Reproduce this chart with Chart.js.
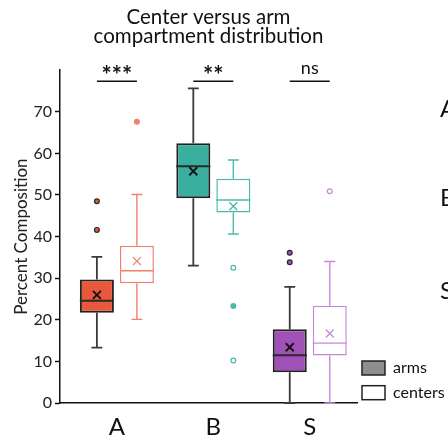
<!DOCTYPE html>
<html lang="en">
<head>
<meta charset="UTF-8">
<title>Center versus arm compartment distribution</title>
<script src="https://cdn.jsdelivr.net/npm/chart.js@4.4.1/dist/chart.umd.min.js"></script>
<style>
    html, body { margin: 0; padding: 0; background: #fff; }
    .grafico { width: 448px; height: 439px; }
</style>
</head>
<body>
<div class="grafico"><canvas id="chartCompartment"></canvas></div>

<script>
    // groups along the x axis
    var groups = ['A', 'B', 'S'];
    var groupPos = [1, 2, 3];
    var yTicks = [0, 10, 20, 30, 40, 50, 60, 70];

    // arms: box plot summaries per group
    var armsLow = [13.3, 33.0, 0];
    var armsQ1 = [21.7, 49.2, 7.4];
    var armsMedian = [24.6, 56.9, 11.5];
    var armsQ3 = [29.7, 62.4, 17.7];
    var armsHigh = [35.1, 75.6, 27.9];
    var armsMean = [26.0, 55.7, 13.4];
    var armsOutliers = [[48.5, 41.6], [], [36.1, 33.8]];

    // centers: box plot summaries per group
    var centersLow = [20.1, 40.6, 0];
    var centersQ1 = [28.8, 45.8, 11.4];
    var centersMedian = [31.8, 48.8, 14.4];
    var centersQ3 = [37.8, 53.9, 23.4];
    var centersHigh = [50.1, 58.4, 34.0];
    var centersMean = [34.1, 47.3, 16.7];
    var centersOutliers = [[67.6], [32.5, 23.3, 10.2], [50.9]];

    // arms vs centers test result per group
    var significance = ['***', '**', 'ns'];

    var armColors = ['#e8583c', '#3aae9f', '#a150b7'];
    var centerColors = ['#f2806d', '#4bb8aa', '#c58ad7'];
    var legendFill = ['#8e8e8e', '#ffffff'];
    var fonte = 'Lato, "Open Sans", sans-serif';

    var series = [
        { low: armsLow, q1: armsQ1, med: armsMedian, q3: armsQ3, high: armsHigh, mean: armsMean, out: armsOutliers },
        { low: centersLow, q1: centersQ1, med: centersMedian, q3: centersQ3, high: centersHigh, mean: centersMean, out: centersOutliers }
    ];

    // outliers of the centers that are drawn solid (group -> index)
    var solidCenterOutliers = { 0: [0], 1: [1] };

    // whiskers, medians, means, outliers, significance bars and legend
    var boxExtras = {
        id: 'boxExtras',
        beforeDatasetsDraw: function (chart) {
            var ctx = chart.ctx;
            var y = chart.scales.y;
            ctx.save();
            series.forEach(function (s, d) {
                chart.getDatasetMeta(d).data.forEach(function (bar, i) {
                    var cap = bar.width * 0.16;
                    var yHigh = y.getPixelForValue(s.high[i]);
                    var yLow = y.getPixelForValue(s.low[i]);
                    ctx.strokeStyle = d == 0 ? '#3a3a3a' : centerColors[i];
                    ctx.lineWidth = d == 0 ? 1.8 : 1.4;
                    ctx.beginPath();
                    ctx.moveTo(bar.x, y.getPixelForValue(s.q3[i]));
                    ctx.lineTo(bar.x, yHigh);
                    ctx.moveTo(bar.x - cap, yHigh);
                    ctx.lineTo(bar.x + cap, yHigh);
                    ctx.moveTo(bar.x, y.getPixelForValue(s.q1[i]));
                    ctx.lineTo(bar.x, yLow);
                    ctx.moveTo(bar.x - cap, yLow);
                    ctx.lineTo(bar.x + cap, yLow);
                    ctx.stroke();
                });
            });
            ctx.restore();
        },
        afterDatasetsDraw: function (chart) {
            var ctx = chart.ctx;
            var y = chart.scales.y;
            ctx.save();
            series.forEach(function (s, d) {
                chart.getDatasetMeta(d).data.forEach(function (bar, i) {
                    var half = bar.width / 2;
                    // median
                    ctx.strokeStyle = d == 0 ? '#2a2a2a' : centerColors[i];
                    ctx.lineWidth = d == 0 ? 2 : 1.4;
                    var ym = y.getPixelForValue(s.med[i]);
                    ctx.beginPath();
                    ctx.moveTo(bar.x - half, ym);
                    ctx.lineTo(bar.x + half, ym);
                    ctx.stroke();
                    // mean
                    var yx = y.getPixelForValue(s.mean[i]);
                    ctx.strokeStyle = d == 0 ? '#111' : centerColors[i];
                    ctx.lineWidth = d == 0 ? 1.8 : 1.3;
                    ctx.beginPath();
                    ctx.moveTo(bar.x - 4, yx - 4);
                    ctx.lineTo(bar.x + 4, yx + 4);
                    ctx.moveTo(bar.x + 4, yx - 4);
                    ctx.lineTo(bar.x - 4, yx + 4);
                    ctx.stroke();
                    // outliers
                    s.out[i].forEach(function (v, k) {
                        var yo = y.getPixelForValue(v);
                        ctx.beginPath();
                        ctx.arc(bar.x, yo, 2.4, 0, Math.PI * 2);
                        if (d == 0) {
                            ctx.fillStyle = armColors[i];
                            ctx.strokeStyle = '#2a2a2a';
                        } else {
                            var solid = (solidCenterOutliers[i] || []).indexOf(k) >= 0;
                            ctx.fillStyle = solid ? centerColors[i] : '#fff';
                            ctx.strokeStyle = centerColors[i];
                        }
                        ctx.lineWidth = 1.2;
                        ctx.fill();
                        ctx.stroke();
                    });
                });
            });

            // significance bars above each group, text sitting 7px over the bar
            var arms = chart.getDatasetMeta(0).data;
            var centers = chart.getDatasetMeta(1).data;
            var yl = y.getPixelForValue(77.3);
            ctx.strokeStyle = '#111';
            ctx.fillStyle = '#111';
            ctx.lineWidth = 1.5;
            ctx.textAlign = 'center';
            ctx.textBaseline = 'alphabetic';
            significance.forEach(function (txt, i) {
                ctx.beginPath();
                ctx.moveTo(arms[i].x, yl);
                ctx.lineTo(centers[i].x, yl);
                ctx.stroke();
                ctx.font = (txt == 'ns' ? '18px ' : 'bold 24px ') + fonte;
                var m = ctx.measureText(txt);
                ctx.fillText(txt, (arms[i].x + centers[i].x) / 2, yl - 7 - m.actualBoundingBoxDescent);
            });
            ctx.restore();
        },
        afterDraw: function (chart) {
            var ctx = chart.ctx;
            var area = chart.chartArea;
            ctx.save();

            // legend, bottom right next to the plot
            ctx.font = '16px ' + fonte;
            ctx.textAlign = 'left';
            ctx.textBaseline = 'middle';
            chart.data.datasets.forEach(function (ds, d) {
                var bx = area.right + 5;
                var by = area.bottom - 42 + d * 24.7;
                ctx.fillStyle = legendFill[d];
                ctx.strokeStyle = '#222';
                ctx.lineWidth = 1.5;
                ctx.fillRect(bx, by, 23, 14);
                ctx.strokeRect(bx, by, 23, 14);
                ctx.fillStyle = '#111';
                ctx.fillText(ds.label, bx + 31, by + 7);
            });

            // panel letters of the neighbouring figure, cut by the edge
            ctx.fillStyle = '#111';
            ctx.font = '24px ' + fonte;
            ctx.fillText('A', 440, 109);
            ctx.fillText('B', 440, 198);
            ctx.fillText('S', 440, 291);
            ctx.restore();
        }
    };

    var configBox = {
        type: 'bar',
        data: {
            datasets: [{
                label: 'arms',
                data: groupPos.map(function (x, i) { return { x: x, y: [armsQ1[i], armsQ3[i]] }; }),
                backgroundColor: armColors,
                borderColor: '#222',
                borderWidth: 2,
                borderSkipped: false
            }, {
                label: 'centers',
                data: groupPos.map(function (x, i) { return { x: x, y: [centersQ1[i], centersQ3[i]] }; }),
                backgroundColor: '#ffffff',
                borderColor: centerColors,
                borderWidth: 1.5,
                borderSkipped: false
            }]
        },
        options: {
            responsive: true,
            maintainAspectRatio: false,
            animation: false,
            categoryPercentage: 0.83,
            barPercentage: 0.85,
            layout: { padding: { left: 11, right: 91, top: 0, bottom: 0 } },
            scales: {
                x: {
                    type: 'linear',
                    offset: false,
                    min: 0.41,
                    max: 3.49,
                    afterBuildTicks: function (s) { s.ticks = groupPos.map(function (v) { return { value: v }; }); },
                    afterFit: function (s) { s.height = 36; },
                    ticks: {
                        callback: function (v) { return groups[groupPos.indexOf(v)]; },
                        font: { size: 24, family: fonte },
                        color: '#111',
                        padding: 10,
                        maxRotation: 0
                    },
                    grid: { display: false, drawTicks: false },
                    border: { color: '#111', width: 1.5 }
                },
                y: {
                    min: 0,
                    max: 80,
                    afterBuildTicks: function (s) { s.ticks = yTicks.map(function (v) { return { value: v }; }); },
                    afterFit: function (s) { s.width = 49; },
                    ticks: {
                        font: { size: 16, family: fonte },
                        color: '#222',
                        padding: 3
                    },
                    grid: { drawOnChartArea: false, tickLength: 5, tickColor: '#111', tickWidth: 1.5 },
                    border: { color: '#111', width: 1.5 },
                    title: {
                        display: true,
                        text: 'Percent Composition',
                        font: { size: 17, family: fonte },
                        color: '#222',
                        padding: 0
                    }
                }
            },
            plugins: {
                title: {
                    display: true,
                    text: ['Center versus arm', 'compartment distribution'],
                    font: { size: 20.5, family: fonte, weight: 'normal', lineHeight: 0.93 },
                    color: '#111',
                    padding: { top: 8, bottom: 24 },
                    fullSize: false
                },
                legend: { display: false },
                tooltip: { enabled: false }
            }
        },
        plugins: [boxExtras]
    };

    var myChartBox = new Chart(document.getElementById('chartCompartment'), configBox);
</script>
</body>
</html>
